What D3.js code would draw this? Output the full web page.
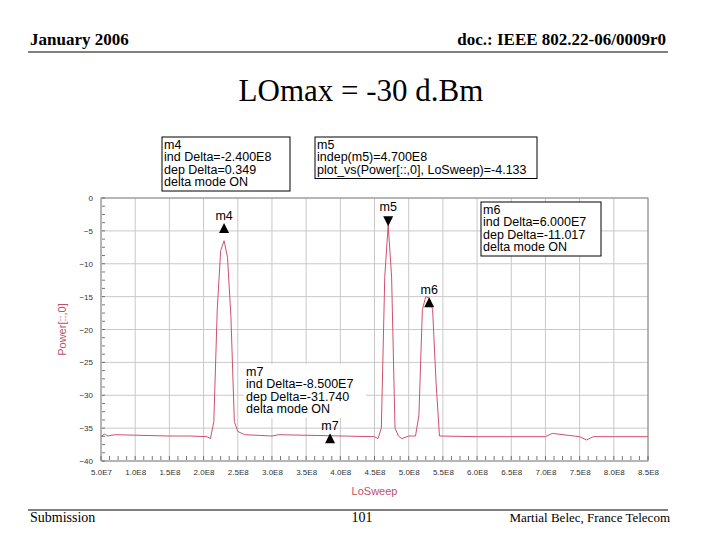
<!DOCTYPE html>
<html><head><meta charset="utf-8">
<script src="https://cdn.jsdelivr.net/npm/d3@7"></script>
<style>body{margin:0;background:#fff}</style></head>
<body><svg id="c" width="720" height="540"></svg>
<script>
const xTicks = [5e7,1e8,1.5e8,2e8,2.5e8,3e8,3.5e8,4e8,4.5e8,5e8,5.5e8,6e8,6.5e8,7e8,7.5e8,8e8,8.5e8];
const xTickLabels = ["5.0E7","1.0E8","1.5E8","2.0E8","2.5E8","3.0E8","3.5E8","4.0E8","4.5E8","5.0E8","5.5E8","6.0E8","6.5E8","7.0E8","7.5E8","8.0E8","8.5E8"];
const yTicks = [0,-5,-10,-15,-20,-25,-30,-35,-40];
const traceX = [5e7,5.5e7,6e7,7e7,1.5e8,1.8e8,2.05e8,2.1e8,2.15e8,2.2e8,2.25e8,2.3e8,2.35e8,2.4e8,2.45e8,2.5e8,2.6e8,3e8,3.1e8,4.5e8,4.55e8,4.6e8,4.65e8,4.7e8,4.75e8,4.8e8,4.85e8,4.9e8,5e8,5.1e8,5.15e8,5.2e8,5.25e8,5.3e8,5.35e8,5.4e8,5.45e8,6e8,7e8,7.1e8,7.5e8,7.6e8,7.7e8,8e8,8.5e8];
const traceY = [-36.3,-35.9,-36.2,-36.0,-36.2,-36.2,-36.3,-36.6,-34,-17,-8,-6.5,-9,-18,-34,-35.5,-36,-36.2,-36,-36.3,-36.6,-35,-12,-4.1,-12,-35,-36.2,-36.6,-36.2,-36.2,-33,-17,-15,-15.2,-17,-28,-36.2,-36.3,-36.3,-35.8,-36.3,-36.8,-36.3,-36.3,-36.3];
const markers = [
 {name:"m4", x:2.3e8, y:-4.7, dir:"up"},
 {name:"m5", x:4.7e8, y:-3.4, dir:"down"},
 {name:"m6", x:5.3e8, y:-16, dir:"up"},
 {name:"m7", x:3.85e8, y:-36.7, dir:"up"}];
const boxM4 = ["m4","ind Delta=-2.400E8","dep Delta=0.349","delta mode ON"];
const boxM5 = ["m5","indep(m5)=4.700E8","plot_vs(Power[::,0], LoSweep)=-4.133"];
const boxM6 = ["m6","ind Delta=6.000E7","dep Delta=-11.017","delta mode ON"];
const boxM7 = ["m7","ind Delta=-8.500E7","dep Delta=-31.740","delta mode ON"];

const svg = d3.select("#c");
const T = "'Liberation Serif', 'Times New Roman', serif";
const A = "'Liberation Sans', Arial, sans-serif";
svg.append("text").attr("x",30).attr("y",45).text("January 2006").attr("font-family",T).attr("font-weight","bold").attr("font-size",17);
svg.append("text").attr("x",666).attr("y",45).attr("text-anchor","end").text("doc.: IEEE 802.22-06/0009r0").attr("font-family",T).attr("font-weight","bold").attr("font-size",17);
svg.append("line").attr("x1",28).attr("x2",668).attr("y1",52).attr("y2",52).attr("stroke","#000").attr("stroke-width",1);
svg.append("text").attr("x",361).attr("y",101).attr("text-anchor","middle").text("LOmax = -30 d.Bm").attr("font-family",T).attr("font-size",31);
svg.append("line").attr("x1",28).attr("x2",668).attr("y1",510).attr("y2",510).attr("stroke","#000").attr("stroke-width",1);
svg.append("text").attr("x",30).attr("y",522).text("Submission").attr("font-family",T).attr("font-size",14);
svg.append("text").attr("x",362).attr("y",522).attr("text-anchor","middle").text("101").attr("font-family",T).attr("font-size",14);
svg.append("text").attr("x",670).attr("y",522).attr("text-anchor","end").text("Martial Belec, France Telecom").attr("font-family",T).attr("font-size",13);

const L=101,R=648,Tp=198,B=461;
const x = d3.scaleLinear().domain([5e7,8.5e8]).range([L,R]);
const y = d3.scaleLinear().domain([0,-40]).range([Tp,B]);
const g = svg.append("g");
g.selectAll(".vg").data(xTicks).join("line").attr("x1",d=>x(d)).attr("x2",d=>x(d)).attr("y1",Tp).attr("y2",B).attr("stroke","#c8c8c8");
g.selectAll(".hg").data(yTicks).join("line").attr("x1",L).attr("x2",R).attr("y1",d=>y(d)).attr("y2",d=>y(d)).attr("stroke","#c8c8c8");
g.append("rect").attr("x",L).attr("y",Tp).attr("width",R-L).attr("height",B-Tp).attr("fill","none").attr("stroke","#888");
const xa = svg.append("g").attr("transform",`translate(0,${B})`).call(d3.axisBottom(x).tickValues(xTicks).tickFormat((d,i)=>xTickLabels[i]).tickSize(0).tickPadding(8));
xa.select(".domain").remove();
xa.selectAll("text").attr("font-family",A).attr("font-size",8).attr("fill","#333");
const minor = d3.range(5e7,8.5e8+1,1.25e7);
svg.selectAll(".mt").data(minor).join("line").attr("x1",d=>x(d)).attr("x2",d=>x(d)).attr("y1",B-1).attr("y2",B-5).attr("stroke","#555").attr("stroke-width",0.8);
const ya = svg.append("g").attr("transform",`translate(${L},0)`).call(d3.axisLeft(y).tickValues(yTicks).tickSize(0).tickPadding(8));
ya.select(".domain").remove();
ya.selectAll("text").attr("font-family",A).attr("font-size",8).attr("fill","#333");
const yminor = d3.range(0,-40.1,-1.25);
svg.selectAll(".ymt").data(yminor).join("line").attr("x1",L+1).attr("x2",L+4).attr("y1",d=>y(d)).attr("y2",d=>y(d)).attr("stroke","#555").attr("stroke-width",0.8);
svg.append("text").attr("transform",`translate(66,${(Tp+B)/2}) rotate(-90)`).attr("text-anchor","middle").text("Power[::,0]").attr("font-family",A).attr("font-size",11).attr("fill","#c0506a");
svg.append("text").attr("x",(L+R)/2).attr("y",495).attr("text-anchor","middle").text("LoSweep").attr("font-family",A).attr("font-size",11).attr("fill","#c0506a");

const pts = traceX.map((d,i)=>[d,traceY[i]]);
svg.append("path").datum(pts).attr("d",d3.line().x(d=>x(d[0])).y(d=>y(d[1]))).attr("fill","none").attr("stroke","#d0506e").attr("stroke-width",1);

function box(lines,x0,y0,w,fs,border){
  const h=lines.length*fs+4;
  svg.append("rect").attr("x",x0).attr("y",y0).attr("width",w).attr("height",h).attr("fill","#fff").attr("stroke",border?"#000":"none");
  lines.forEach((t,i)=>svg.append("text").attr("x",x0+2).attr("y",y0+fs*(i+1)-1).text(t).attr("font-family",A).attr("font-size",fs));
}
box(boxM4,162,137,128,12.5,true);
box(boxM5,315,137,222,12.5,true);
box(boxM6,481,202,120,12.5,true);
box(boxM7,244,364,122,12.5,false);

markers.forEach(m=>{
  const cx=x(m.x), cy=y(m.y);
  const p = m.dir==="up" ? `M${cx},${cy-6}L${cx+5},${cy+4}L${cx-5},${cy+4}Z` : `M${cx},${cy+6}L${cx+5},${cy-4}L${cx-5},${cy-4}Z`;
  svg.append("path").attr("d",p).attr("fill","#000");
  svg.append("text").attr("x",cx).attr("y",cy-9).attr("text-anchor","middle").text(m.name).attr("font-family",A).attr("font-size",12.5);
});
</script></body></html>
